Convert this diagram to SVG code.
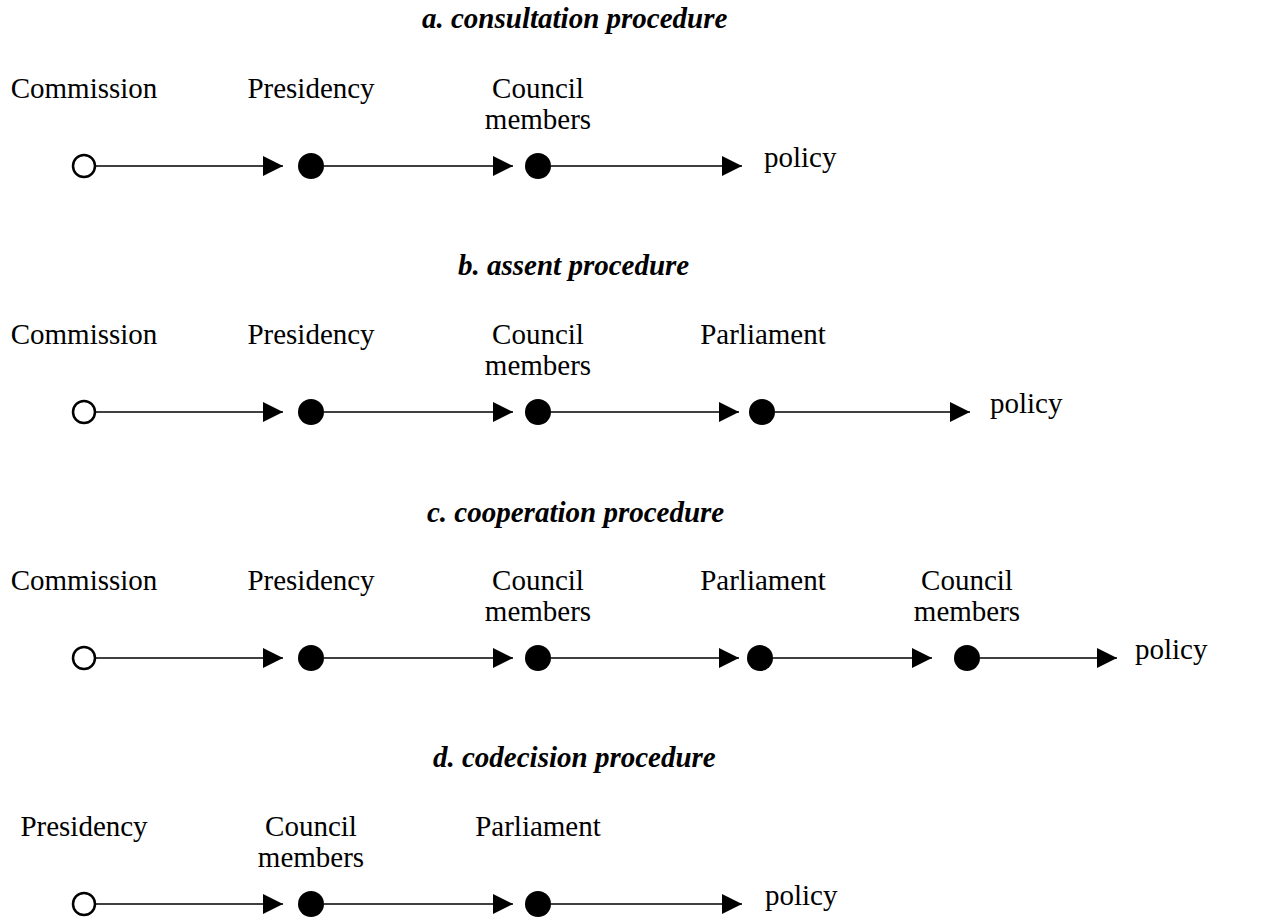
<svg xmlns="http://www.w3.org/2000/svg" width="1272" height="917" viewBox="0 0 1272 917">
<style>
text{font-family:"Liberation Serif","Times New Roman",serif;font-size:29px;fill:#000}
.t{font-weight:bold;font-style:italic}
.l{text-anchor:middle}
.open{fill:#fff;stroke:#000;stroke-width:2.5}
.dot{fill:#000}
.c{stroke:#000;stroke-width:1.6;fill:none;marker-end:url(#ah)}
</style>
<defs>
<marker id="ah" markerUnits="userSpaceOnUse" markerWidth="20" markerHeight="20" refX="20" refY="10" orient="auto" viewBox="0 0 20 20">
<path d="M0,0 L20,10 L0,20 Z" fill="#000"/>
</marker>
</defs>
<rect width="1272" height="917" fill="#fff"/>

<g id="titles">
<text class="t" x="422" y="28">a. consultation procedure</text>
<text class="t" x="458" y="275">b. assent procedure</text>
<text class="t" x="427" y="522">c. cooperation procedure</text>
<text class="t" x="433" y="767">d. codecision procedure</text>
</g>

<g id="connectors">
<path class="c" d="M95,166 H283"/>
<path class="c" d="M324,166 H513"/>
<path class="c" d="M551,166 H742"/>

<path class="c" d="M95,412 H283"/>
<path class="c" d="M324,412 H513"/>
<path class="c" d="M551,412 H739"/>
<path class="c" d="M775,412 H970"/>

<path class="c" d="M95,658 H283"/>
<path class="c" d="M324,658 H513"/>
<path class="c" d="M551,658 H739"/>
<path class="c" d="M773,658 H932"/>
<path class="c" d="M980,658 H1117"/>

<path class="c" d="M95,904 H283"/>
<path class="c" d="M324,904 H513"/>
<path class="c" d="M551,904 H742"/>
</g>

<g id="a-commission"><circle class="open" cx="84" cy="166" r="11"/><text class="l" x="84" y="98">Commission</text></g>
<g id="a-presidency"><circle class="dot" cx="311" cy="166" r="13"/><text class="l" x="311" y="98">Presidency</text></g>
<g id="a-council"><circle class="dot" cx="538" cy="166" r="13"/><text class="l" x="538" y="98">Council</text><text class="l" x="538" y="129">members</text></g>
<g id="a-policy"><text x="764" y="167">policy</text></g>

<g id="b-commission"><circle class="open" cx="84" cy="412" r="11"/><text class="l" x="84" y="344">Commission</text></g>
<g id="b-presidency"><circle class="dot" cx="311" cy="412" r="13"/><text class="l" x="311" y="344">Presidency</text></g>
<g id="b-council"><circle class="dot" cx="538" cy="412" r="13"/><text class="l" x="538" y="344">Council</text><text class="l" x="538" y="375">members</text></g>
<g id="b-parliament"><circle class="dot" cx="762" cy="412" r="13"/><text class="l" x="763" y="344">Parliament</text></g>
<g id="b-policy"><text x="990" y="413">policy</text></g>

<g id="c-commission"><circle class="open" cx="84" cy="658" r="11"/><text class="l" x="84" y="590">Commission</text></g>
<g id="c-presidency"><circle class="dot" cx="311" cy="658" r="13"/><text class="l" x="311" y="590">Presidency</text></g>
<g id="c-council"><circle class="dot" cx="538" cy="658" r="13"/><text class="l" x="538" y="590">Council</text><text class="l" x="538" y="621">members</text></g>
<g id="c-parliament"><circle class="dot" cx="760" cy="658" r="13"/><text class="l" x="763" y="590">Parliament</text></g>
<g id="c-council2"><circle class="dot" cx="967" cy="658" r="13"/><text class="l" x="967" y="590">Council</text><text class="l" x="967" y="621">members</text></g>
<g id="c-policy"><text x="1135" y="659">policy</text></g>

<g id="d-presidency"><circle class="open" cx="84" cy="904" r="11"/><text class="l" x="84" y="836">Presidency</text></g>
<g id="d-council"><circle class="dot" cx="311" cy="904" r="13"/><text class="l" x="311" y="836">Council</text><text class="l" x="311" y="867">members</text></g>
<g id="d-parliament"><circle class="dot" cx="538" cy="904" r="13"/><text class="l" x="538" y="836">Parliament</text></g>
<g id="d-policy"><text x="765" y="905">policy</text></g>
</svg>
